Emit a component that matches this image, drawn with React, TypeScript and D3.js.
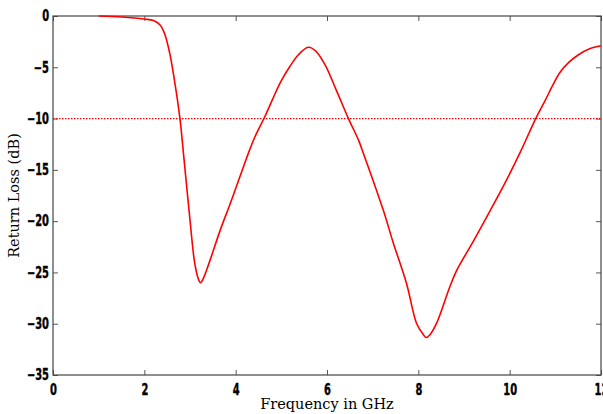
import React, { useEffect, useRef } from 'react';
import * as d3 from 'd3';

// Frequency (GHz) and return loss (dB)
const freqGHz = [
    1.0, 1.5, 2.0, 2.2, 2.35, 2.45, 2.55, 2.65, 2.78, 2.87, 3.0, 3.1, 3.18, 3.23, 3.3,
    3.44, 3.66, 3.88, 4.09, 4.31, 4.42, 4.64, 4.82, 5.0, 5.19, 5.37, 5.59, 5.75, 5.95,
    6.21, 6.47, 6.69, 6.79, 7.23, 7.45, 7.74, 7.96, 8.1, 8.17, 8.25, 8.4, 8.69, 8.84,
    9.2, 9.57, 9.93, 10.23, 10.57, 10.77, 10.95, 11.1, 11.3, 11.5, 11.75, 12.0,
];
const returnLoss = [
    0, -0.1, -0.3, -0.45, -0.9, -1.8, -3.5, -6.0, -10, -14, -19.9, -24, -25.6, -26.0, -25.5,
    -23.8, -20.9, -18.3, -15.7, -13.0, -11.8, -9.8, -8.0, -6.3, -4.9, -3.8, -3.05, -3.4, -4.7,
    -7.3, -10, -12.1, -13.3, -18.9, -22.1, -26.05, -29.95, -31.0, -31.35, -31.1, -29.95, -26.4, -24.8,
    -22.0, -19.0, -16.0, -13.3, -10.0, -8.3, -6.7, -5.5, -4.5, -3.8, -3.2, -2.9,
];
const xTicks = [0, 2, 4, 6, 8, 10, 12];
const yTicks = [0, -5, -10, -15, -20, -25, -30, -35];
const threshold = -10;

const App: React.FC = () => {
    const svgRef = useRef<SVGSVGElement>(null);

    useEffect(() => {
        const root = d3.select(svgRef.current);
        root.selectAll('*').remove();

        const width = 603;
        const height = 414;
        const margin = { top: 16, right: 2, bottom: 39, left: 53 };
        const w = width - margin.left - margin.right;
        const h = height - margin.top - margin.bottom;

        root.attr('width', width).attr('height', height);
        const svg = root.append('g').attr('transform', `translate(${margin.left},${margin.top})`);

        const x = d3.scaleLinear().domain([0, 12]).range([0, w]);
        const y = d3.scaleLinear().domain([-35, 0]).range([h, 0]);

        // tick numbers are a narrow heavy face, so squeeze them horizontally
        const squeeze = 0.66;

        // Axes: ticks point inward on all four sides
        const styleAxis = (g: d3.Selection<SVGGElement, unknown, null, undefined>) => {
            g.select('.domain').remove();
            g.selectAll('line').attr('stroke', '#555');
            g.selectAll<SVGTextElement, unknown>('text')
                .style('font-family', '"DejaVu Sans", sans-serif')
                .style('font-weight', 'bold')
                .style('font-size', '15px')
                .attr('fill', '#000')
                .attr('stroke', '#000')
                .attr('stroke-width', 0.4)
                .attr('x', function () { return +(this.getAttribute('x') || 0) / squeeze; })
                .attr('transform', `scale(${squeeze},1)`);
        };

        svg.append('g')
            .attr('transform', `translate(0,${h})`)
            .call(d3.axisBottom(x).tickValues(xTicks).tickSizeInner(-5).tickSizeOuter(0).tickPadding(9).tickFormat(d3.format('d')))
            .call(styleAxis);

        svg.append('g')
            .call(d3.axisTop(x).tickValues(xTicks).tickSizeInner(-5).tickSizeOuter(0).tickFormat(() => ''))
            .call(styleAxis);

        svg.append('g')
            .call(d3.axisLeft(y).tickValues(yTicks).tickSizeInner(-5).tickSizeOuter(0).tickPadding(4).tickFormat(d3.format('d')))
            .call(styleAxis);

        svg.append('g')
            .attr('transform', `translate(${w},0)`)
            .call(d3.axisRight(y).tickValues(yTicks).tickSizeInner(-5).tickSizeOuter(0).tickFormat(() => ''))
            .call(styleAxis);

        // Frame
        svg.append('rect')
            .attr('x', 0)
            .attr('y', 0)
            .attr('width', w)
            .attr('height', h)
            .attr('fill', 'none')
            .attr('stroke', '#444')
            .attr('stroke-width', 1.2);

        // -10 dB reference
        svg.append('line')
            .attr('x1', 0)
            .attr('x2', w)
            .attr('y1', y(threshold))
            .attr('y2', y(threshold))
            .attr('stroke', '#ff0000')
            .attr('stroke-width', 1.2)
            .attr('stroke-dasharray', '1.5,1.5');

        // Curve
        const pts = freqGHz.map((f, i) => [f, returnLoss[i]] as [number, number]);
        const line = d3.line<[number, number]>()
            .x(d => x(d[0]))
            .y(d => y(d[1]))
            .curve(d3.curveCatmullRom.alpha(0.5));

        svg.append('path')
            .datum(pts)
            .attr('d', line)
            .attr('fill', 'none')
            .attr('stroke', '#ff0000')
            .attr('stroke-width', 1.6);

        // Axis titles
        root.append('text')
            .attr('x', margin.left + x(6))
            .attr('y', 409)
            .attr('text-anchor', 'middle')
            .style('font-family', '"DejaVu Serif", "Liberation Serif", serif')
            .style('font-size', '14.5px')
            .text('Frequency in GHz');

        root.append('text')
            .attr('transform', `translate(19,${margin.top + h / 2}) rotate(-90)`)
            .attr('text-anchor', 'middle')
            .style('font-family', '"DejaVu Serif", "Liberation Serif", serif')
            .style('font-size', '14.5px')
            .text('Return Loss (dB)');
    }, []);

    return <svg ref={svgRef} style={{ position: 'absolute', left: 0, top: 0 }}></svg>;
};

export default App;
